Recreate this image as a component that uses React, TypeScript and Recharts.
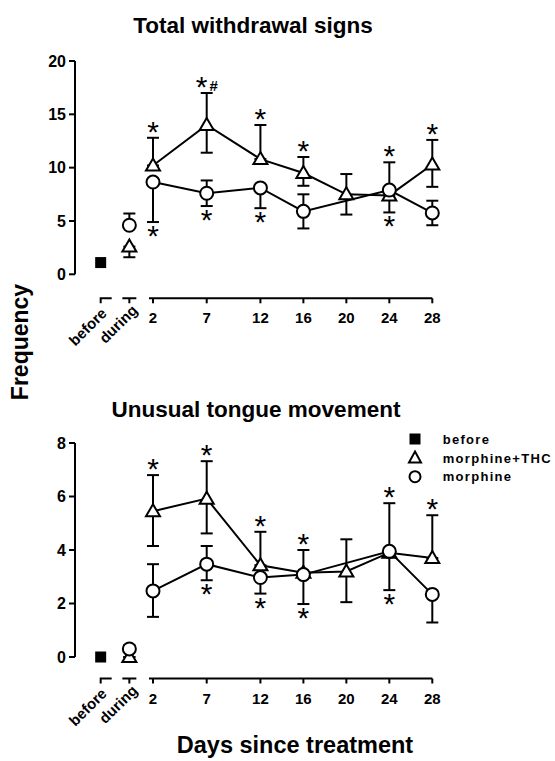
import React from "react";
import { ComposedChart, Line, Scatter, XAxis, YAxis, ErrorBar } from "recharts";

const FONT = "'Liberation Sans', Arial, sans-serif";

// x categories and where they sit on the day axis
const xLabels = ["before", "during", "2", "7", "12", "16", "20", "24", "28"];
const xPos = [-2.87, -0.2, 2, 7, 12, 16, 20, 24, 28];

// Total withdrawal signs
const totalBefore = [1.1, null, null, null, null, null, null, null, null];
const totalThc = [null, 2.6, 10.2, 14.0, 10.8, 9.5, 7.5, 7.4, 10.3];
const totalThcUp = [0, 0, 2.6, 3.0, 3.2, 1.5, 1.9, 0, 2.3];
const totalThcDown = [0, 1.0, 0, 2.6, 0, 1.2, 1.9, 1.6, 2.1];
const totalThcSig = ["", "", "up", "up#", "up", "up", "", "down", "up"];
const totalMor = [null, 4.6, 8.65, 7.6, 8.1, 5.9, null, 7.9, 5.75];
const totalMorUp = [0, 1.1, 0, 1.2, 0, 1.6, 0, 2.6, 1.15];
const totalMorDown = [0, 0, 3.75, 1.2, 1.9, 1.6, 0, 0, 1.15];
const totalMorSig = ["", "", "down", "down", "down", "", "", "up", ""];

// Unusual tongue movement
const tongueBefore = [0, null, null, null, null, null, null, null, null];
const tongueThc = [null, 0, 5.45, 5.92, 3.43, 3.15, 3.2, 3.9, 3.7];
const tongueThcUp = [0, 0, 1.35, 1.4, 1.25, 0.85, 1.2, 1.85, 1.6];
const tongueThcDown = [0, 0, 1.3, 1.3, 0, 0, 1.15, 0, 0];
const tongueThcSig = ["", "", "up", "up", "up", "up", "", "up", "up"];
const tongueMor = [null, 0.3, 2.47, 3.47, 2.97, 3.08, null, 3.95, 2.34];
const tongueMorUp = [0, 0.15, 1.0, 0.68, 0, 0, 0, 0, 0];
const tongueMorDown = [0, 0, 0.97, 0.6, 0.6, 1.1, 0, 1.45, 1.05];
const tongueMorSig = ["", "", "", "down", "down", "down", "", "down", ""];

const X_MIN = -5.26;
const X_MAX = 28;
const CHART_W = 555;
const Y_AXIS_W = 40;
const M_LEFT = 35;
const M_RIGHT = 122.7;
const M_TOP = 30;
const PLOT_W = CHART_W - M_LEFT - Y_AXIS_W - M_RIGHT;
const PPU = PLOT_W / (X_MAX - X_MIN);
const X_AXIS_H = 85;

function buildRows(before, thc, thcUp, thcDown, mor, morUp, morDown) {
  // index 1 ("during") is plotted on its own, not joined to the day series
  return xPos.map((x, i) => ({
    x,
    before: before[i],
    thc: i === 1 ? null : thc[i],
    thcDuring: i === 1 ? thc[i] : null,
    thcErr: [thcDown[i], thcUp[i]],
    mor: i === 1 ? null : mor[i],
    morDuring: i === 1 ? mor[i] : null,
    morErr: [morDown[i], morUp[i]],
  }));
}

function buildStars(vals, up, down, sig) {
  return xPos.flatMap((x, i) => {
    const s = sig[i];
    if (!s || vals[i] == null) return [];
    const above = s.startsWith("up");
    return [{ x, y: above ? vals[i] + up[i] : vals[i] - down[i], above, hash: s.endsWith("#") }];
  });
}

const TriangleDot = (props: any) => {
  const { cx, cy } = props;
  if (cx == null || cy == null || props.value == null) return <g key={props.index} />;
  return (
    <path
      key={props.index}
      d={`M${cx},${cy - 7}L${cx + 7},${cy + 5}L${cx - 7},${cy + 5}Z`}
      fill="#fff"
      stroke="#000"
      strokeWidth={2}
    />
  );
};

const CircleDot = (props: any) => {
  const { cx, cy } = props;
  if (cx == null || cy == null || props.value == null) return <g key={props.index} />;
  return <circle key={props.index} cx={cx} cy={cy} r={6.5} fill="#fff" stroke="#000" strokeWidth={2} />;
};

const SquareDot = (props: any) => {
  const { cx, cy } = props;
  if (cx == null || cy == null || props.value == null) return <g key={props.index} />;
  return <rect key={props.index} x={cx - 5.5} y={cy - 5.5} width={11} height={11} fill="#000" />;
};

const StarMark = (props: any) => {
  const { cx, cy, payload } = props;
  if (payload.hash) {
    return (
      <g>
        <text x={cx - 5} y={cy + 4} textAnchor="middle" fontSize={30} fontFamily={FONT} fill="#000">*</text>
        <text x={cx + 7} y={cy - 2} textAnchor="middle" fontSize={15} fontWeight="bold" fontFamily={FONT} fill="#000">#</text>
      </g>
    );
  }
  return (
    <text x={cx} y={payload.above ? cy + 4 : cy + 24} textAnchor="middle" fontSize={30} fontFamily={FONT} fill="#000">
      *
    </text>
  );
};

const DayTick = (props: any) => {
  const { x, y, payload, gap } = props;
  const i = xPos.indexOf(payload.value);
  const label = xLabels[i];
  const ay = y + gap;
  const st = { stroke: "#000", strokeWidth: 2, fill: "none" };
  const txt = { fontSize: 15, fontWeight: "bold", fontFamily: FONT, fill: "#000" };
  if (i === 0) {
    return (
      <g>
        <path d={`M${x},${ay + 5}V${ay}H${x + 11}`} {...st} />
        <text transform={`translate(${x + 7},${ay + 16}) rotate(-45)`} textAnchor="end" {...txt}>{label}</text>
      </g>
    );
  }
  if (i === 1) {
    return (
      <g>
        <path d={`M${x - 7},${ay}H${x + 7}M${x},${ay}V${ay + 5}`} {...st} />
        <text transform={`translate(${x + 9},${ay + 13}) rotate(-45)`} textAnchor="end" {...txt}>{label}</text>
      </g>
    );
  }
  return (
    <g>
      {i === 2 && <line x1={x - 4} x2={x + (X_MAX - 2) * PPU} y1={ay} y2={ay} {...st} />}
      <line x1={x} x2={x} y1={ay} y2={ay + 5} {...st} />
      <text x={x} y={ay + 25} textAnchor="middle" {...txt}>{label}</text>
    </g>
  );
};

function Panel({ rows, stars, yMax, yTicks, plotTop, gap, plotH }) {
  return (
    <div style={{ position: "absolute", left: 0, top: plotTop - M_TOP }}>
      <ComposedChart
        width={CHART_W}
        height={M_TOP + plotH + X_AXIS_H}
        data={rows}
        margin={{ top: M_TOP, right: M_RIGHT, bottom: 0, left: M_LEFT }}
      >
        <XAxis
          dataKey="x"
          type="number"
          domain={[X_MIN, X_MAX]}
          ticks={xPos}
          axisLine={false}
          tickLine={false}
          tickSize={0}
          tickMargin={0}
          height={X_AXIS_H}
          interval={0}
          tick={<DayTick gap={gap} />}
        />
        <YAxis
          type="number"
          domain={[0, yMax]}
          ticks={yTicks}
          width={Y_AXIS_W}
          stroke="#000"
          strokeWidth={2}
          tickSize={6}
          tickMargin={3}
          tick={{ fontSize: 16, fontWeight: "bold", fontFamily: FONT, fill: "#000" }}
        />
        <Line dataKey="thc" stroke="#000" strokeWidth={2} connectNulls dot={<TriangleDot />} isAnimationActive={false}>
          <ErrorBar dataKey="thcErr" width={6} stroke="#000" strokeWidth={2} direction="y" />
        </Line>
        <Line dataKey="thcDuring" stroke="none" dot={<TriangleDot />} isAnimationActive={false}>
          <ErrorBar dataKey="thcErr" width={6} stroke="#000" strokeWidth={2} direction="y" />
        </Line>
        <Line dataKey="mor" stroke="#000" strokeWidth={2} connectNulls dot={<CircleDot />} isAnimationActive={false}>
          <ErrorBar dataKey="morErr" width={6} stroke="#000" strokeWidth={2} direction="y" />
        </Line>
        <Line dataKey="morDuring" stroke="none" dot={<CircleDot />} isAnimationActive={false}>
          <ErrorBar dataKey="morErr" width={6} stroke="#000" strokeWidth={2} direction="y" />
        </Line>
        <Line dataKey="before" stroke="none" dot={<SquareDot />} isAnimationActive={false} />
        <Scatter data={stars} dataKey="y" shape={<StarMark />} isAnimationActive={false} />
      </ComposedChart>
    </div>
  );
}

export default function App() {
  const topRows = buildRows(totalBefore, totalThc, totalThcUp, totalThcDown, totalMor, totalMorUp, totalMorDown);
  const topStars = [
    ...buildStars(totalThc, totalThcUp, totalThcDown, totalThcSig),
    ...buildStars(totalMor, totalMorUp, totalMorDown, totalMorSig),
  ];
  const botRows = buildRows(tongueBefore, tongueThc, tongueThcUp, tongueThcDown, tongueMor, tongueMorUp, tongueMorDown);
  const botStars = [
    ...buildStars(tongueThc, tongueThcUp, tongueThcDown, tongueThcSig),
    ...buildStars(tongueMor, tongueMorUp, tongueMorDown, tongueMorSig),
  ];
  const bold = { fontFamily: FONT, fontWeight: "bold", fill: "#000" } as const;
  const legendTxt = { fontFamily: FONT, fontWeight: "bold", fontSize: 13, letterSpacing: 1.3, fill: "#000" } as const;

  return (
    <div style={{ position: "absolute", left: 0, top: 0, width: 555, height: 761, background: "#fff", overflow: "hidden" }}>
      <svg width={555} height={761} style={{ position: "absolute", left: 0, top: 0 }}>
        <text x={253} y={33} textAnchor="middle" fontSize={22.5} {...bold}>Total withdrawal signs</text>
        <text x={256} y={416.5} textAnchor="middle" fontSize={22.5} {...bold}>Unusual tongue movement</text>
        <text x={295} y={753} textAnchor="middle" fontSize={23.5} {...bold}>Days since treatment</text>
        <text transform="translate(28,342) rotate(-90)" textAnchor="middle" fontSize={23} {...bold}>Frequency</text>
        <rect x={409.5} y={433.5} width={11} height={11} fill="#000" />
        <path d="M415,451.5L421,462.5L409,462.5Z" fill="#fff" stroke="#000" strokeWidth={2} />
        <circle cx={415} cy={476.7} r={5.5} fill="#fff" stroke="#000" strokeWidth={2} />
        <text x={442.7} y={443.5} {...legendTxt}>before</text>
        <text x={442.7} y={462.8} {...legendTxt}>morphine+THC</text>
        <text x={442.7} y={481.2} {...legendTxt}>morphine</text>
      </svg>
      <Panel rows={topRows} stars={topStars} yMax={20} yTicks={[0, 5, 10, 15, 20]} plotTop={60.7} gap={24} plotH={274 - 60.7} />
      <Panel rows={botRows} stars={botStars} yMax={8} yTicks={[0, 2, 4, 6, 8]} plotTop={442.7} gap={21.5} plotH={656.7 - 442.7} />
    </div>
  );
}
